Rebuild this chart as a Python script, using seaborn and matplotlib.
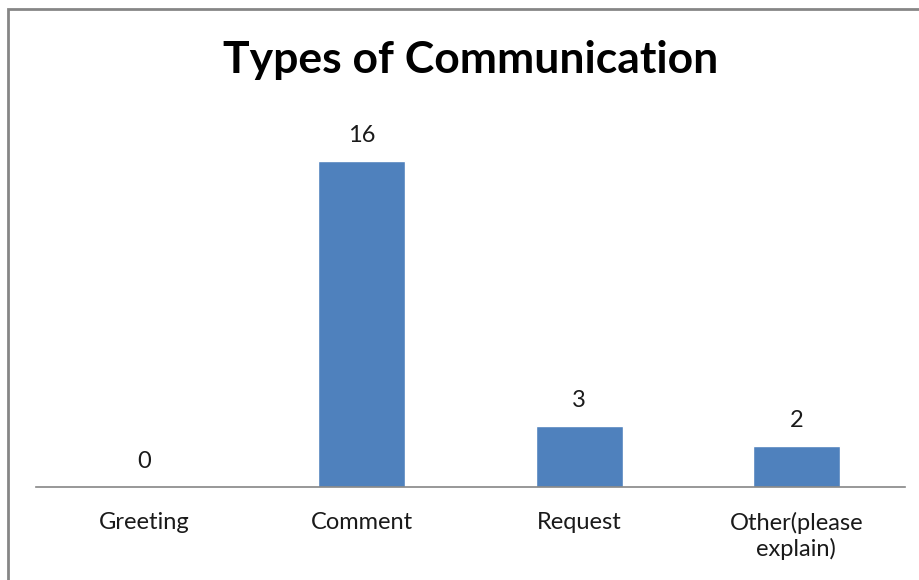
import matplotlib
matplotlib.use("Agg")
import matplotlib.pyplot as plt
import seaborn as sns
import pandas as pd

# datos del grafico
categorias = ["Greeting", "Comment", "Request", "Other(please\nexplain)"]
valores = [0, 16, 3, 2]
titulo = "Types of Communication"

df = pd.DataFrame({"tipo": categorias, "n": valores})

sns.set_style("white")
plt.rcParams["font.family"] = ["Lato", "DejaVu Sans"]

fig = plt.figure(figsize=(9.19, 5.8), dpi=100)
ax = fig.add_axes([36 / 919, 93 / 580, (905 - 36) / 919, (487 - 100) / 580])

sns.barplot(data=df, x="tipo", y="n", color="#4F81BD", width=0.4,
            saturation=1, ax=ax)

ax.set_ylim(0, 19.0)
ax.set_xlim(-0.5, len(categorias) - 0.5)
ax.set_xlabel("")
ax.set_ylabel("")
ax.set_yticks([])
for s in ["top", "right", "left"]:
    ax.spines[s].set_visible(False)
ax.spines["bottom"].set_color("#868686")
ax.spines["bottom"].set_linewidth(1.2)
ax.tick_params(axis="x", length=0, pad=18, labelsize=17, colors="#1a1a1a")
for lbl in ax.get_xticklabels():
    lbl.set_linespacing(1.2)

# etiquetas de valores
for i, v in enumerate(valores):
    ax.annotate(str(v), (i, v), xytext=(0, 11), textcoords="offset points",
                ha="center", va="bottom", fontsize=17, color="#1a1a1a")

fig.text(471 / 919, 1 - 60 / 580, titulo, ha="center", va="center",
         fontsize=32, fontweight="bold", color="black")

# borde del grafico
borde = plt.Rectangle((7.5 / 919, -0.1), 1.2, 1 - 9.5 / 580 + 0.1,
                      transform=fig.transFigure, fill=False,
                      edgecolor="#868686", linewidth=2)
fig.patches.append(borde)

fig.savefig("out.png", dpi=100)
